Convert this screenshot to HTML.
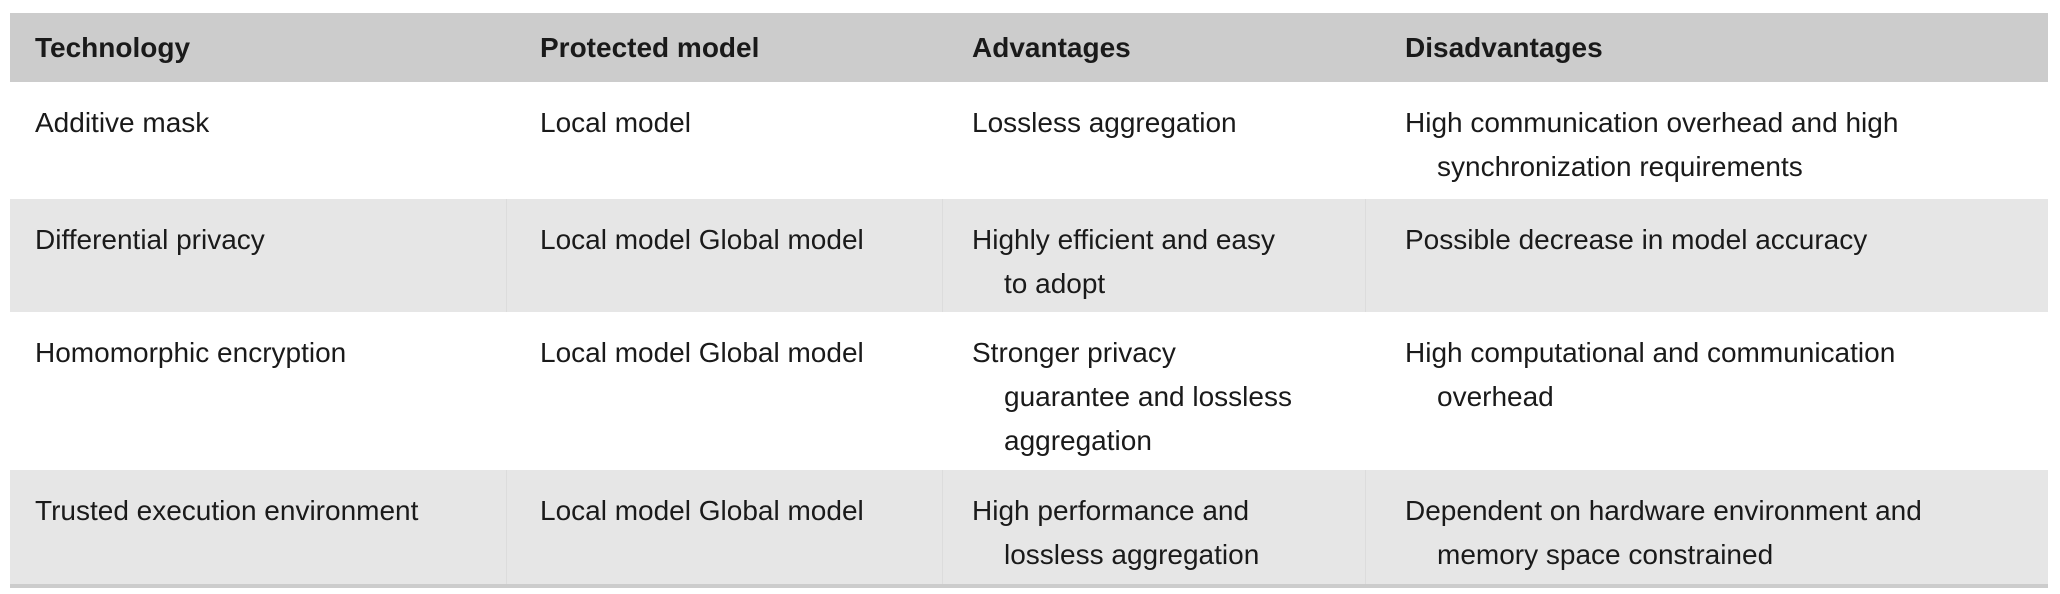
<!DOCTYPE html>
<html><head><meta charset="utf-8"><style>
body{margin:0;width:2060px;height:594px;background:#fff;font-family:"Liberation Sans",sans-serif;color:#1a1a1a;position:relative;overflow:hidden}
.row{position:absolute;left:10px;width:2038px}
.c{position:absolute;font-size:28px;line-height:44px;white-space:nowrap;top:19px}
.h .c{font-weight:bold}
.ind{padding-left:32px}
.sep{position:absolute;top:0;bottom:0;width:1px;background:#dcdcdc}
</style></head><body>
<div class="row h" style="top:13px;height:69px;background:#cccccc">
<div class="c" style="left:25px;top:13px">Technology</div>
<div class="c" style="left:530px;top:13px">Protected model</div>
<div class="c" style="left:962px;top:13px">Advantages</div>
<div class="c" style="left:1395px;top:13px">Disadvantages</div>
</div>
<div class="row" style="top:82px;height:117px;background:#fff">
<div class="c" style="left:25px">Additive mask</div>
<div class="c" style="left:530px">Local model</div>
<div class="c" style="left:962px">Lossless aggregation</div>
<div class="c" style="left:1395px">High communication overhead and high<br><span class="ind">synchronization requirements</span></div>
</div>
<div class="row" style="top:199px;height:113px;background:#e6e6e6">
<div class="sep" style="left:496px"></div><div class="sep" style="left:932px"></div><div class="sep" style="left:1355px"></div>
<div class="c" style="left:25px">Differential privacy</div>
<div class="c" style="left:530px">Local model Global model</div>
<div class="c" style="left:962px">Highly efficient and easy<br><span class="ind">to adopt</span></div>
<div class="c" style="left:1395px">Possible decrease in model accuracy</div>
</div>
<div class="row" style="top:312px;height:158px;background:#fff">
<div class="c" style="left:25px">Homomorphic encryption</div>
<div class="c" style="left:530px">Local model Global model</div>
<div class="c" style="left:962px">Stronger privacy<br><span class="ind">guarantee and lossless</span><br><span class="ind">aggregation</span></div>
<div class="c" style="left:1395px">High computational and communication<br><span class="ind">overhead</span></div>
</div>
<div class="row" style="top:470px;height:114px;background:#e6e6e6;border-bottom:4px solid #cccccc">
<div class="sep" style="left:496px"></div><div class="sep" style="left:932px"></div><div class="sep" style="left:1355px"></div>
<div class="c" style="left:25px">Trusted execution environment</div>
<div class="c" style="left:530px">Local model Global model</div>
<div class="c" style="left:962px">High performance and<br><span class="ind">lossless aggregation</span></div>
<div class="c" style="left:1395px">Dependent on hardware environment and<br><span class="ind">memory space constrained</span></div>
</div>
</body></html>
